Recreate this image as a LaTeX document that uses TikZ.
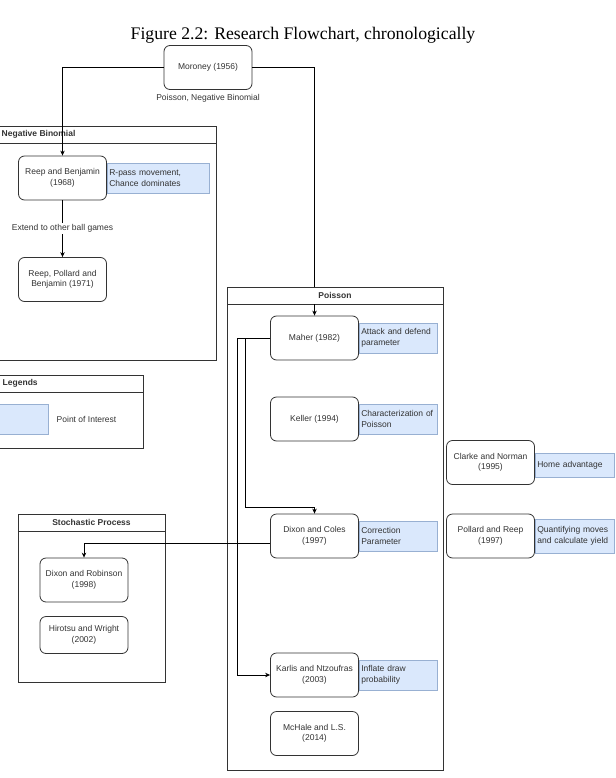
\documentclass[tikz,border=0pt]{standalone}
\usepackage{fontspec}
\setmainfont{Liberation Serif}
\setsansfont{Liberation Sans}
\usetikzlibrary{arrows.meta}

\definecolor{ink}{HTML}{333333}
\definecolor{noteblue}{HTML}{DAE8FC}
\definecolor{noteline}{HTML}{6C8EBF}

\begin{document}
\begin{tikzpicture}[
        x=1pt, y=-1pt,
        line width=0.8pt,
        >={Stealth[length=5pt,width=4.5pt]},
        every node/.style={font=\sffamily\fontsize{8.5}{10.5}\selectfont, text=ink},
        paper/.style={rectangle, rounded corners=6pt, draw=ink, fill=white, align=center,
            minimum width=88pt, minimum height=44pt, inner sep=1pt},
        note/.style={rectangle, draw=noteline!70, fill=noteblue, align=left,
            text width=#1, minimum height=30pt, inner sep=2pt},
        note/.default=74pt,
        lane/.style={draw=ink},
        lanetitle/.style={font=\sffamily\bfseries\fontsize{8.5}{10}\selectfont}
    ]
    \clip (0,0) rectangle (615,778);

    % --- Title ---
    \node[font=\rmfamily\fontsize{17.7}{20}\selectfont, text=black, anchor=base] (title) at (303,40)
        {Figure 2.2: Research Flowchart, chronologically};

    % --- Containers ---
    \draw[lane] (-150,126) rectangle (216,360);
    \draw[lane] (-150,143) -- (216,143);
    \node[lanetitle, anchor=west] (nbtitle) at (-2,134.5) {Negative Binomial};

    \draw[lane] (-100,375) rectangle (143,448);
    \draw[lane] (-100,392) -- (143,392);
    \node[lanetitle, anchor=west] (legtitle) at (-1,383.5) {Legends};

    \draw[lane] (227,287) rectangle (443,770);
    \draw[lane] (227,304) -- (443,304);
    \node[lanetitle] (poistitle) at (335,295.5) {Poisson};

    \draw[lane] (18,514) rectangle (165,682);
    \draw[lane] (18,531) -- (165,531);
    \node[lanetitle] (stotitle) at (91.5,522.5) {Stochastic Process};

    % --- Papers ---
    \node[paper] (moroney) at (208,67.5) {Moroney (1956)};
    \node (moroneylabel) at (208,98) {Poisson, Negative Binomial};

    \node[paper] (reep) at (62.5,178) {Reep and Benjamin\\(1968)};
    \node[paper] (reeppb) at (62.5,279.5) {Reep, Pollard and\\Benjamin (1971)};

    \node[paper] (maher) at (314.5,338) {Maher (1982)};
    \node[paper] (keller) at (314.5,419) {Keller (1994)};
    \node[paper] (dixcol) at (314.5,536) {Dixon and Coles\\(1997)};
    \node[paper] (karlis) at (314.5,675) {Karlis and Ntzoufras\\(2003)};
    \node[paper] (mchale) at (314.5,733.5) {McHale and L.S.\\(2014)};

    \node[paper] (dixrob) at (84,580) {Dixon and Robinson\\(1998)};
    \node[paper, minimum height=37pt] (hirotsu) at (84,635) {Hirotsu and Wright\\(2002)};

    \node[paper] (clarke) at (490.5,462.5) {Clarke and Norman\\(1995)};
    \node[paper] (pollard) at (490.5,536) {Pollard and Reep\\(1997)};

    % --- Points of interest ---
    \node[note=98pt, anchor=west] (reepnote) at (reep.east) {R-pass movement,\\Chance dominates};
    \node[note, anchor=west] (mahernote) at (maher.east) {Attack and defend\\parameter};
    \node[note, anchor=west] (kellernote) at (keller.east) {Characterization of\\Poisson};
    \node[note, anchor=west] (dixcolnote) at (dixcol.east) {Correction\\Parameter};
    \node[note, anchor=west] (karlisnote) at (karlis.east) {Inflate draw\\probability};
    \node[note=75pt, minimum height=24pt, anchor=west] (clarkenote) at ([yshift=-2.5pt]clarke.east) {Home advantage};
    \node[note=75pt, minimum height=34pt, anchor=west] (pollardnote) at (pollard.east) {Quantifying moves\\and calculate yield};

    % --- Legend ---
    \node[note=66pt] (swatch) at (13,419) {};
    \node[anchor=west] (poi) at (53,419) {Point of Interest};

    % --- Connectors ---
    \coordinate (poistop) at (314.5,287);
    \coordinate (poishead) at (314.5,304);
    \coordinate (mtodc) at (245,507);
    \coordinate (mtoka) at (237,675);

    \draw[->] (moroney.west) -| (reep.north);
    \draw (moroney.east) -| (poistop);
    \draw[->] (poishead) -- (maher.north);
    \draw[->] (reep) -- node[fill=white, inner sep=1.5pt] {Extend to other ball games} (reeppb);
    \draw[->] (maher.west) -| (mtodc) -| (dixcol.north);
    \draw[->] (maher.west) -| (mtoka) -- (karlis.west);
    \draw[->] ([yshift=-7pt]dixcol.west) -| (dixrob.north);

\end{tikzpicture}
\end{document}
